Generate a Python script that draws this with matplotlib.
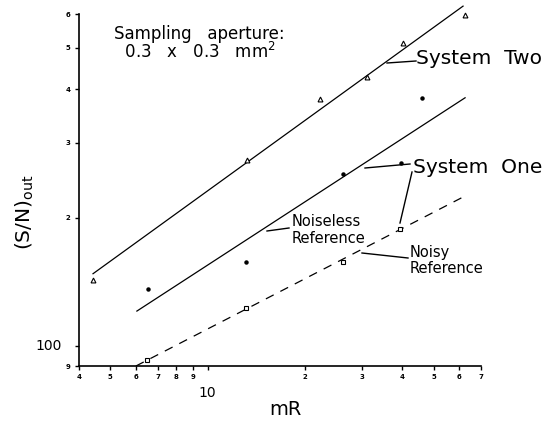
import matplotlib
matplotlib.use("Agg")
import matplotlib.pyplot as plt
from matplotlib.ticker import FixedLocator, NullFormatter
from matplotlib.lines import Line2D

# ---- data ----
sys2_x = [4.42, 13.2, 22.2, 31.1, 40.2, 62.5]
sys2_y = [143, 273, 380, 427, 513, 597]
sys1_x = [6.54, 13.1, 26.2, 39.6, 46.0]
sys1_y = [136, 158, 253, 269, 382]
noisy_x = [6.49, 13.1, 26.2, 39.3]
noisy_y = [93, 123, 158, 188]

sys2_fit_x = [4.42, 61.6]
sys2_fit_y = [148, 626]
sys1_fit_x = [6.04, 62.5]
sys1_fit_y = [121, 382]
noisy_fit_x = [6.0, 62.5]
noisy_fit_y = [90, 225]

x_ticks = [4, 5, 6, 7, 8, 9, 10, 20, 30, 40, 50, 60, 70]
x_labels = ['4', '5', '6', '7', '8', '9', '', '2', '3', '4', '5', '6', '7']
y_ticks = [90, 100, 200, 300, 400, 500, 600]
y_labels = ['9', '', '2', '3', '4', '5', '6']

W, H = 548, 423
plt.rcParams['font.family'] = ['DejaVu Sans']
fig = plt.figure(figsize=(W / 100, H / 100), dpi=100)
ax = fig.add_axes([79 / W, 1 - 366 / H, (481 - 79) / W, (366 - 14) / H])
ax.set_xscale('log')
ax.set_yscale('log')
ax.set_xlim(4, 70)
ax.set_ylim(90, 600)

lw = 0.9
ax.plot(sys2_fit_x, sys2_fit_y, color='black', lw=lw, clip_on=False)
ax.plot(sys1_fit_x, sys1_fit_y, color='black', lw=lw, clip_on=False)
ax.plot(noisy_fit_x, noisy_fit_y, color='black', lw=lw, dashes=(7, 6), clip_on=False)

ax.plot(sys2_x, sys2_y, ls='none', marker='^', ms=3.5, mfc='white', mec='black', mew=0.8, clip_on=False)
ax.plot(sys1_x, sys1_y, ls='none', marker='o', ms=2.2, mfc='black', mec='black', clip_on=False)
ax.plot(noisy_x, noisy_y, ls='none', marker='s', ms=3.5, mfc='white', mec='black', mew=0.8, clip_on=False)

for s in ['top', 'right']:
    ax.spines[s].set_visible(False)
for s in ['left', 'bottom']:
    ax.spines[s].set_linewidth(1.2)

ax.xaxis.set_major_locator(FixedLocator(x_ticks))
ax.set_xticklabels(x_labels)
ax.yaxis.set_major_locator(FixedLocator(y_ticks))
ax.set_yticklabels(y_labels)
ax.xaxis.set_minor_locator(FixedLocator([10]))
ax.yaxis.set_minor_locator(FixedLocator([100]))
ax.xaxis.set_minor_formatter(NullFormatter())
ax.yaxis.set_minor_formatter(NullFormatter())
ax.tick_params(which='major', length=3, width=1, pad=3, labelsize=5)
ax.tick_params(which='minor', length=6, width=1)
for t in ax.get_xticklabels() + ax.get_yticklabels():
    t.set_fontweight('bold')

ax.annotate('10', xy=(10, 0), xycoords=('data', 'axes fraction'), xytext=(0, -20),
            textcoords='offset pixels', ha='center', va='top', fontsize=10)
ax.annotate('100', xy=(0, 100), xycoords=('axes fraction', 'data'), xytext=(-17, 0),
            textcoords='offset pixels', ha='right', va='center', fontsize=10)


def P(px, py):
    return (px / W, 1 - py / H)


def txt(px, py, s, size, **kw):
    x, y = P(px, py)
    fig.text(x, y, s, fontsize=size, va='baseline', ha='left', **kw)


def leader(p0, p1):
    (x0, y0), (x1, y1) = P(*p0), P(*p1)
    fig.add_artist(Line2D([x0, x1], [y0, y1], color='black', lw=1.0, transform=fig.transFigure))


x, y = P(114, 25)
fig.text(x, y, 'Sampling   aperture:\n  0.3   x   0.3   mm$^2$', fontsize=12, ha='left', va='top',
         linespacing=0.95)
txt(416, 64, 'System  Two', 14.5)
txt(413, 173, 'System  One', 14.5)
txt(292, 226, 'Noiseless', 10.5)
txt(292, 243, 'Reference', 10.5)
txt(410, 257, 'Noisy', 10.5)
txt(410, 273, 'Reference', 10.5)

leader((387, 63), (416, 61))
leader((365, 168), (410, 164))
leader((412, 172), (400, 223))
leader((267, 231), (289, 228))
leader((362, 253), (408, 258))

x, y = P(285, 415)
fig.text(x, y, 'mR', fontsize=14, ha='center', va='baseline')
x, y = P(25, 212)
fig.text(x, y, r'(S/N)$_{\mathrm{out}}$', fontsize=14.5, ha='center', va='center', rotation=90)

fig.savefig('out.png', dpi=100)
